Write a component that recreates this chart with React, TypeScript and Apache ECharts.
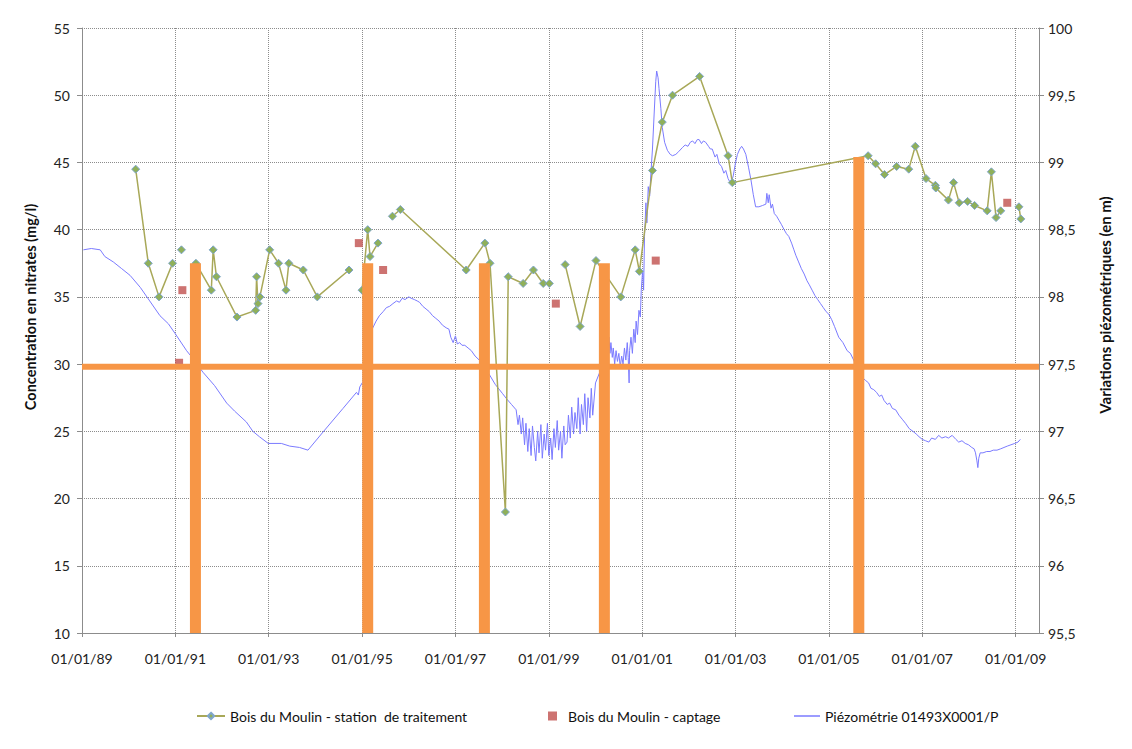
import React, { useEffect, useRef } from 'react';
import * as echarts from 'echarts';

const X0 = 1989;

// Bois du Moulin - station de traitement (nitrates, mg/l); null = gap
const greenDates = [
  1990.15, 1990.42, 1990.65, 1990.94, 1991.03,
  1991.13, 1991.3,
  1991.44, 1991.77, 1991.81, 1991.88, 1992.32, 1992.72, 1992.74, 1992.77, 1992.81,
  1993.02, 1993.21, 1993.37, 1993.43, 1993.74, 1994.04, 1994.72, 1994.86,
  1995.0, 1995.12, 1995.17, 1995.34, 1995.5,
  1995.65, 1995.82, 1997.23, 1997.63, 1997.74, 1998.07, 1998.13, 1998.45, 1998.67,
  1998.88, 1999.01, 1999.2,
  1999.35, 1999.67, 2000.01, 2000.54, 2000.85, 2000.94, 2001.22, 2001.43, 2001.65,
  2002.23, 2002.84, 2002.93, 2005.84, 2006.0, 2006.19, 2006.45, 2006.71, 2006.85,
  2007.08, 2007.28, 2007.29, 2007.56, 2007.67, 2007.79, 2007.97, 2008.12, 2008.39,
  2008.48, 2008.58, 2008.68, 2008.9,
  2009.07, 2009.11,
];
const greenValues = [
  44.5, 37.5, 35.0, 37.5, null,
  38.5, null,
  37.5, 35.5, 38.5, 36.5, 33.5, 34.0, 36.5, 34.5, 35.0,
  38.5, 37.5, 35.5, 37.5, 37.0, 35.0, 37.0, null,
  35.5, 40.0, 38.0, 39.0, null,
  41.0, 41.5, 37.0, 39.0, 37.5, 19.0, 36.5, 36.0, 37.0,
  36.0, 36.0, null,
  37.4, 32.8, 37.7, 35.0, 38.5, 36.9, 44.4, 48.0, 50.0,
  51.4, 45.5, 43.5, 45.5, 44.9, 44.1, 44.7, 44.5, 46.2,
  43.8, 43.3, 43.1, 42.2, 43.5, 42.0, 42.1, 41.8, 41.4,
  44.3, 40.9, 41.4, null,
  41.7, 40.8,
];

// Bois du Moulin - captage
const captageDates = [1991.08, 1991.15, 1994.93, 1995.45, 1999.15, 2001.29, 2008.82];
const captageValues = [30.1, 35.5, 39.0, 37.0, 34.5, 37.7, 42.0];

// Orange event bars and threshold
const barDates = [1991.43, 1995.12, 1997.62, 2000.19, 2005.64];
const barValues = [37.5, 37.5, 37.5, 37.5, 45.4];
const thresholdValue = 29.8;

// Piézométrie 01493X0001/P (m), [date, level]
const piezometrie: [number, number][] = [
  [1989.03, 98.35], [1989.2, 98.36], [1989.39, 98.35], [1989.49, 98.3], [1989.67, 98.26],
  [1989.85, 98.21], [1990.03, 98.16], [1990.25, 98.07], [1990.45, 97.97], [1990.67, 97.86],
  [1990.85, 97.8], [1990.99, 97.73], [1991.24, 97.6], [1991.38, 97.54], [1991.59, 97.44],
  [1991.84, 97.34], [1992.1, 97.21], [1992.27, 97.15], [1992.52, 97.07], [1992.66, 97.0],
  [1992.8, 96.96], [1992.99, 96.91], [1993.27, 96.91], [1993.45, 96.89], [1993.66, 96.88],
  [1993.84, 96.86], [1994.2, 97.01], [1994.59, 97.17], [1994.88, 97.29], [1994.92, 97.27],
  [1994.95, 97.33], [1995.02, 97.37],
  [1995.07, 97.62], [1995.12, 97.7], [1995.18, 97.73], [1995.23, 97.77], [1995.3, 97.82],
  [1995.37, 97.86], [1995.45, 97.89], [1995.52, 97.92], [1995.59, 97.93], [1995.66, 97.95],
  [1995.74, 97.97], [1995.8, 97.96], [1995.86, 97.99], [1995.92, 97.98], [1996.0, 98.0],
  [1996.05, 97.99], [1996.12, 97.98], [1996.18, 97.97], [1996.23, 97.96], [1996.3, 97.93],
  [1996.37, 97.91], [1996.44, 97.89], [1996.51, 97.86], [1996.58, 97.84], [1996.65, 97.82],
  [1996.72, 97.79], [1996.8, 97.77], [1996.86, 97.76], [1996.9, 97.7], [1996.95, 97.66],
  [1997.0, 97.71], [1997.04, 97.65], [1997.09, 97.66], [1997.14, 97.64], [1997.2, 97.64],
  [1997.27, 97.62], [1997.34, 97.6], [1997.42, 97.56], [1997.51, 97.53], [1997.62, 97.48],
  [1997.73, 97.42], [1997.85, 97.35], [1998.01, 97.28], [1998.1, 97.24], [1998.2, 97.2],
  [1998.3, 97.16], [1998.34, 97.05], [1998.37, 97.12], [1998.41, 96.98], [1998.44, 97.1],
  [1998.48, 96.9], [1998.51, 97.06], [1998.55, 96.85], [1998.58, 97.02], [1998.62, 96.82],
  [1998.65, 97.04], [1998.69, 96.88], [1998.72, 96.78], [1998.76, 97.0], [1998.79, 96.84],
  [1998.83, 97.05], [1998.86, 96.8], [1998.9, 96.98], [1998.93, 96.86], [1998.97, 97.06],
  [1999.0, 96.82], [1999.04, 96.95], [1999.07, 96.79], [1999.11, 97.02], [1999.14, 96.88],
  [1999.18, 97.08], [1999.21, 96.86], [1999.25, 97.0], [1999.28, 96.8], [1999.32, 97.04],
  [1999.35, 96.9], [1999.39, 96.92], [1999.42, 97.12], [1999.46, 96.95], [1999.49, 97.18],
  [1999.53, 96.98], [1999.56, 97.14], [1999.6, 97.02], [1999.63, 97.25], [1999.67, 96.98],
  [1999.7, 97.2], [1999.74, 97.05], [1999.77, 97.28], [1999.81, 97.0], [1999.84, 97.25],
  [1999.88, 97.1], [1999.91, 97.32], [1999.94, 97.12], [2000.0, 97.36], [2000.08, 97.43],
  [2000.29, 97.7], [2000.31, 97.58], [2000.33, 97.66], [2000.36, 97.55], [2000.38, 97.62],
  [2000.41, 97.5], [2000.44, 97.6], [2000.47, 97.52], [2000.5, 97.58], [2000.53, 97.48],
  [2000.56, 97.56], [2000.59, 97.5], [2000.62, 97.62], [2000.65, 97.53], [2000.68, 97.66],
  [2000.7, 97.55], [2000.72, 97.36], [2000.73, 97.6], [2000.76, 97.7], [2000.79, 97.58],
  [2000.82, 97.76], [2000.85, 97.66], [2000.87, 97.82], [2000.9, 97.72], [2000.93, 97.9],
  [2000.96, 97.85], [2000.98, 98.05], [2001.01, 98.2], [2001.03, 98.05], [2001.05, 98.45],
  [2001.08, 98.7], [2001.1, 98.55], [2001.13, 98.82], [2001.16, 98.75], [2001.19, 98.94],
  [2001.22, 99.1], [2001.26, 99.39], [2001.29, 99.6], [2001.31, 99.68], [2001.34, 99.63],
  [2001.36, 99.55], [2001.4, 99.4], [2001.43, 99.26], [2001.48, 99.15], [2001.54, 99.09],
  [2001.6, 99.06], [2001.65, 99.05], [2001.72, 99.06], [2001.78, 99.08], [2001.86, 99.11],
  [2001.92, 99.13], [2001.98, 99.12], [2002.03, 99.15], [2002.08, 99.16], [2002.13, 99.14],
  [2002.18, 99.17], [2002.22, 99.17], [2002.27, 99.14], [2002.31, 99.16], [2002.36, 99.15],
  [2002.42, 99.12], [2002.46, 99.1], [2002.5, 99.1], [2002.56, 99.04], [2002.6, 99.06],
  [2002.65, 98.99], [2002.7, 98.97], [2002.75, 98.92], [2002.79, 98.94], [2002.84, 98.88],
  [2002.9, 98.84], [2002.95, 98.9], [2003.0, 99.0], [2003.04, 99.06], [2003.09, 99.1],
  [2003.13, 99.12], [2003.17, 99.1], [2003.22, 99.06], [2003.28, 98.96], [2003.33, 98.87],
  [2003.38, 98.76], [2003.43, 98.67], [2003.5, 98.67], [2003.58, 98.68], [2003.65, 98.69],
  [2003.67, 98.77], [2003.7, 98.7], [2003.72, 98.76], [2003.76, 98.66], [2003.79, 98.69],
  [2003.83, 98.62], [2003.88, 98.6], [2003.93, 98.57], [2003.98, 98.54], [2004.04, 98.5],
  [2004.09, 98.47], [2004.14, 98.45], [2004.2, 98.4], [2004.25, 98.35], [2004.29, 98.31],
  [2004.35, 98.26], [2004.41, 98.21], [2004.47, 98.17], [2004.53, 98.12], [2004.58, 98.09],
  [2004.64, 98.05], [2004.7, 98.01], [2004.76, 97.98], [2004.82, 97.95], [2004.88, 97.92],
  [2004.94, 97.89], [2005.0, 97.87], [2005.06, 97.83], [2005.12, 97.78], [2005.21, 97.7],
  [2005.3, 97.66], [2005.39, 97.6], [2005.46, 97.58], [2005.53, 97.53], [2005.65, 97.44],
  [2005.72, 97.4], [2005.78, 97.38], [2005.85, 97.36], [2005.9, 97.32], [2005.96, 97.31],
  [2006.02, 97.29], [2006.08, 97.26], [2006.13, 97.27], [2006.18, 97.23], [2006.25, 97.2],
  [2006.3, 97.21], [2006.36, 97.17], [2006.43, 97.16], [2006.5, 97.12], [2006.57, 97.09],
  [2006.64, 97.06], [2006.72, 97.02], [2006.8, 97.0], [2006.87, 96.98], [2006.93, 96.96],
  [2007.0, 96.94], [2007.07, 96.93], [2007.14, 96.92], [2007.2, 96.95], [2007.28, 96.94],
  [2007.35, 96.97], [2007.42, 96.95], [2007.5, 96.96], [2007.56, 96.95], [2007.64, 96.97],
  [2007.72, 96.94], [2007.78, 96.92], [2007.85, 96.93], [2007.92, 96.91], [2007.99, 96.9],
  [2008.06, 96.88], [2008.11, 96.87], [2008.14, 96.84], [2008.17, 96.78], [2008.19, 96.73],
  [2008.21, 96.8], [2008.24, 96.84], [2008.3, 96.84], [2008.38, 96.85], [2008.45, 96.85],
  [2008.52, 96.86], [2008.6, 96.86], [2008.68, 96.87], [2008.75, 96.88], [2008.82, 96.89],
  [2008.9, 96.9], [2008.98, 96.91], [2009.05, 96.92], [2009.1, 96.94],
];

const NAME_GREEN = 'Bois du Moulin - station  de traitement';
const NAME_RED = 'Bois du Moulin - captage';
const NAME_BLUE = 'Piézométrie 01493X0001/P';

const FONT = 'Lato, "Open Sans", sans-serif';

export default function App() {
  const ref = useRef<HTMLDivElement>(null);
  useEffect(() => {
    const chart = echarts.init(ref.current!, null, { renderer: 'svg' });
    const greenData = greenDates.map((d, i) => [d - X0, greenValues[i]]);
    const redData = captageDates.map((d, i) => [d - X0, captageValues[i]]);
    const barData = barDates.map((d, i) => [d - X0, barValues[i]]);
    const blueData = piezometrie.map(([d, v]) => [d - X0, v]);
    const gridLine = { show: true, lineStyle: { type: 'dotted', color: '#8c8c8c', width: 1 } };
    const axisLineStyle = { show: true, lineStyle: { color: '#8c8c8c', width: 1 } };
    const legendText = { fontSize: 14, fontFamily: FONT, color: '#111' };
    chart.setOption({
      animation: false,
      backgroundColor: '#ffffff',
      grid: { left: 82, right: 93, top: 28, bottom: 116, containLabel: false },
      xAxis: {
        type: 'value',
        min: 0,
        max: 20.5,
        interval: 2,
        axisLine: { ...axisLineStyle, onZero: false },
        axisTick: { show: true, length: 4, lineStyle: { color: '#8c8c8c' } },
        splitLine: gridLine,
        axisLabel: {
          margin: 18,
          color: '#222',
          fontSize: 14,
          fontFamily: FONT,
          showMaxLabel: false,
          formatter: (v: number) => {
            const r = Math.round(v);
            if (Math.abs(v - r) > 1e-6 || r % 2 !== 0) return '';
            return '01/01/' + String((X0 + r) % 100).padStart(2, '0');
          },
        },
      },
      yAxis: [
        {
          type: 'value',
          min: 10,
          max: 55,
          interval: 5,
          position: 'left',
          axisLine: axisLineStyle,
          axisTick: { show: true, length: 5, lineStyle: { color: '#8c8c8c' } },
          splitLine: gridLine,
          axisLabel: { margin: 12, color: '#222', fontSize: 14, fontFamily: FONT },
        },
        {
          type: 'value',
          min: 95.5,
          max: 100,
          interval: 0.5,
          position: 'right',
          axisLine: axisLineStyle,
          axisTick: { show: true, length: 5, lineStyle: { color: '#8c8c8c' } },
          splitLine: { show: false },
          axisLabel: {
            margin: 9,
            color: '#222',
            fontSize: 14,
            fontFamily: FONT,
            formatter: (v: number) => String(Math.round(v * 10) / 10).replace('.', ','),
          },
        },
      ],
      legend: [
        {
          data: [NAME_GREEN],
          left: 191,
          top: 704,
          itemWidth: 28,
          itemHeight: 8,
          textStyle: legendText,
        },
        {
          data: [NAME_RED],
          left: 543,
          top: 704,
          itemWidth: 9,
          itemHeight: 9,
          textStyle: { ...legendText, padding: [0, 0, 0, 6] },
        },
        {
          data: [{ name: NAME_BLUE, icon: 'rect' }],
          left: 789,
          top: 704,
          itemWidth: 26,
          itemHeight: 1.5,
          textStyle: legendText,
        },
      ],
      graphic: [
        {
          type: 'text',
          x: 30,
          y: 307,
          rotation: Math.PI / 2,
          style: {
            text: 'Concentration en nitrates (mg/l)',
            align: 'center',
            verticalAlign: 'middle',
            font: 'bold 14.5px ' + FONT,
            fill: '#111',
          },
        },
        {
          type: 'text',
          x: 1105,
          y: 305,
          rotation: Math.PI / 2,
          style: {
            text: 'Variations piézométriques (en m)',
            align: 'center',
            verticalAlign: 'middle',
            font: 'bold 15px ' + FONT,
            fill: '#111',
          },
        },
      ],
      series: [
        {
          name: NAME_BLUE,
          type: 'line',
          yAxisIndex: 1,
          data: blueData,
          symbol: 'none',
          lineStyle: { color: '#7b7bff', width: 1 },
          itemStyle: { color: '#7b7bff' },
          z: 2,
        },
        {
          name: NAME_GREEN,
          type: 'line',
          yAxisIndex: 0,
          data: greenData,
          connectNulls: false,
          symbol: 'diamond',
          symbolSize: 8,
          showSymbol: true,
          showAllSymbol: true,
          lineStyle: { color: '#a8a858', width: 1.5 },
          itemStyle: { color: '#8fb05a', borderColor: '#7fa6cc', borderWidth: 1 },
          z: 3,
        },
        {
          name: NAME_RED,
          type: 'scatter',
          yAxisIndex: 0,
          data: redData,
          symbol: 'rect',
          symbolSize: 8,
          itemStyle: { color: '#c0504d' },
          z: 3,
        },
        {
          name: 'seuil',
          type: 'line',
          yAxisIndex: 0,
          data: [[0, thresholdValue], [20.5, thresholdValue]],
          symbol: 'none',
          lineStyle: { color: '#f79646', width: 6 },
          z: 4,
        },
        {
          name: 'evenements',
          type: 'bar',
          yAxisIndex: 0,
          data: barData,
          barWidth: 11,
          itemStyle: { color: '#f79646' },
          z: 5,
        },
      ],
    });
    return () => chart.dispose();
  }, []);
  return (
    <div
      ref={ref}
      style={{ position: 'fixed', left: 0, top: 0, width: 1132, height: 749, background: '#fff' }}
    />
  );
}
